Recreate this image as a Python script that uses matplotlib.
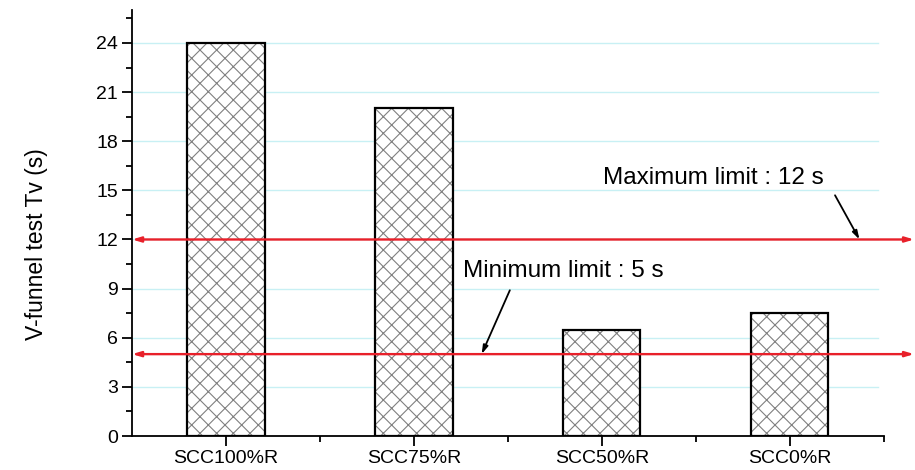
import matplotlib.pyplot as plt
import numpy as np

plt.rcParams['font.family'] = ['Liberation Sans', 'DejaVu Sans']
plt.rcParams['hatch.linewidth'] = 0.8

mixes = ['SCC100%R', 'SCC75%R', 'SCC50%R', 'SCC0%R']
tv = [24, 20, 6.5, 7.5]
max_limit = 12
min_limit = 5

fig = plt.figure(figsize=(9.15, 4.7), dpi=100)
ax = fig.add_axes([0.1443, 0.0723, 0.8217, 0.906])

x = np.arange(1, len(mixes) + 1)
# hatch layer in grey, then a black outline on top
ax.bar(x, tv, width=0.41, color='white', edgecolor='#808080', hatch='xx', linewidth=0, zorder=2)
ax.bar(x, tv, width=0.41, fill=False, edgecolor='black', linewidth=1.6, zorder=3)

ax.set_xlim(0.5, 4.5)
ax.set_ylim(0, 26)
ax.set_xticks(x)
ax.set_xticklabels(mixes)
ax.set_xticks([1.5, 2.5, 3.5, 4.5], minor=True)
ax.set_yticks(np.arange(0, 25, 3))
ax.set_yticks(np.arange(0, 26, 1.5), minor=True)
ax.tick_params(axis='both', which='major', direction='out', length=7, width=1.3, labelsize=14, pad=3)
ax.tick_params(axis='both', which='minor', direction='out', length=4, width=1.3)
for s in ['top', 'right']:
    ax.spines[s].set_visible(False)
for s in ['left', 'bottom']:
    ax.spines[s].set_linewidth(1.3)

# light cyan grid lines at the major y ticks, stopping just short of the axis end
for yv in np.arange(3, 25, 3):
    ax.plot([0.5, 4.47], [yv, yv], color='#c8f0f4', linewidth=1.0, zorder=0)
ax.set_ylabel('V-funnel test Tv (s)', fontsize=16.5)
ax.yaxis.set_label_coords(-0.112, 0.451)

# limit lines run from the y axis out to the figure edge
for lim in (max_limit, min_limit):
    ax.annotate('', xy=(0.5, lim), xycoords='data',
                xytext=(0.999, lim), textcoords=('figure fraction', 'data'),
                arrowprops=dict(arrowstyle='<|-|>,head_length=0.5,head_width=0.15',
                                color='#e8202a', lw=1.7, shrinkA=0, shrinkB=0),
                annotation_clip=False, zorder=4)

ax.annotate('', xy=(4.37, max_limit), xytext=(4.24, 14.7),
            arrowprops=dict(arrowstyle='-|>,head_length=0.5,head_width=0.15',
                            color='black', lw=1.3, shrinkA=0, shrinkB=0), zorder=5)
ax.text(3.005, 15.76, 'Maximum limit : %d s' % max_limit, fontsize=17.5, va='center', ha='left')

ax.annotate('', xy=(2.36, min_limit), xytext=(2.51, 8.9),
            arrowprops=dict(arrowstyle='-|>,head_length=0.5,head_width=0.15',
                            color='black', lw=1.3, shrinkA=0, shrinkB=0), zorder=5)
ax.text(2.26, 10.08, 'Minimum limit : %d s' % min_limit, fontsize=17.5, va='center', ha='left')

fig.savefig('out.png', dpi=100)
